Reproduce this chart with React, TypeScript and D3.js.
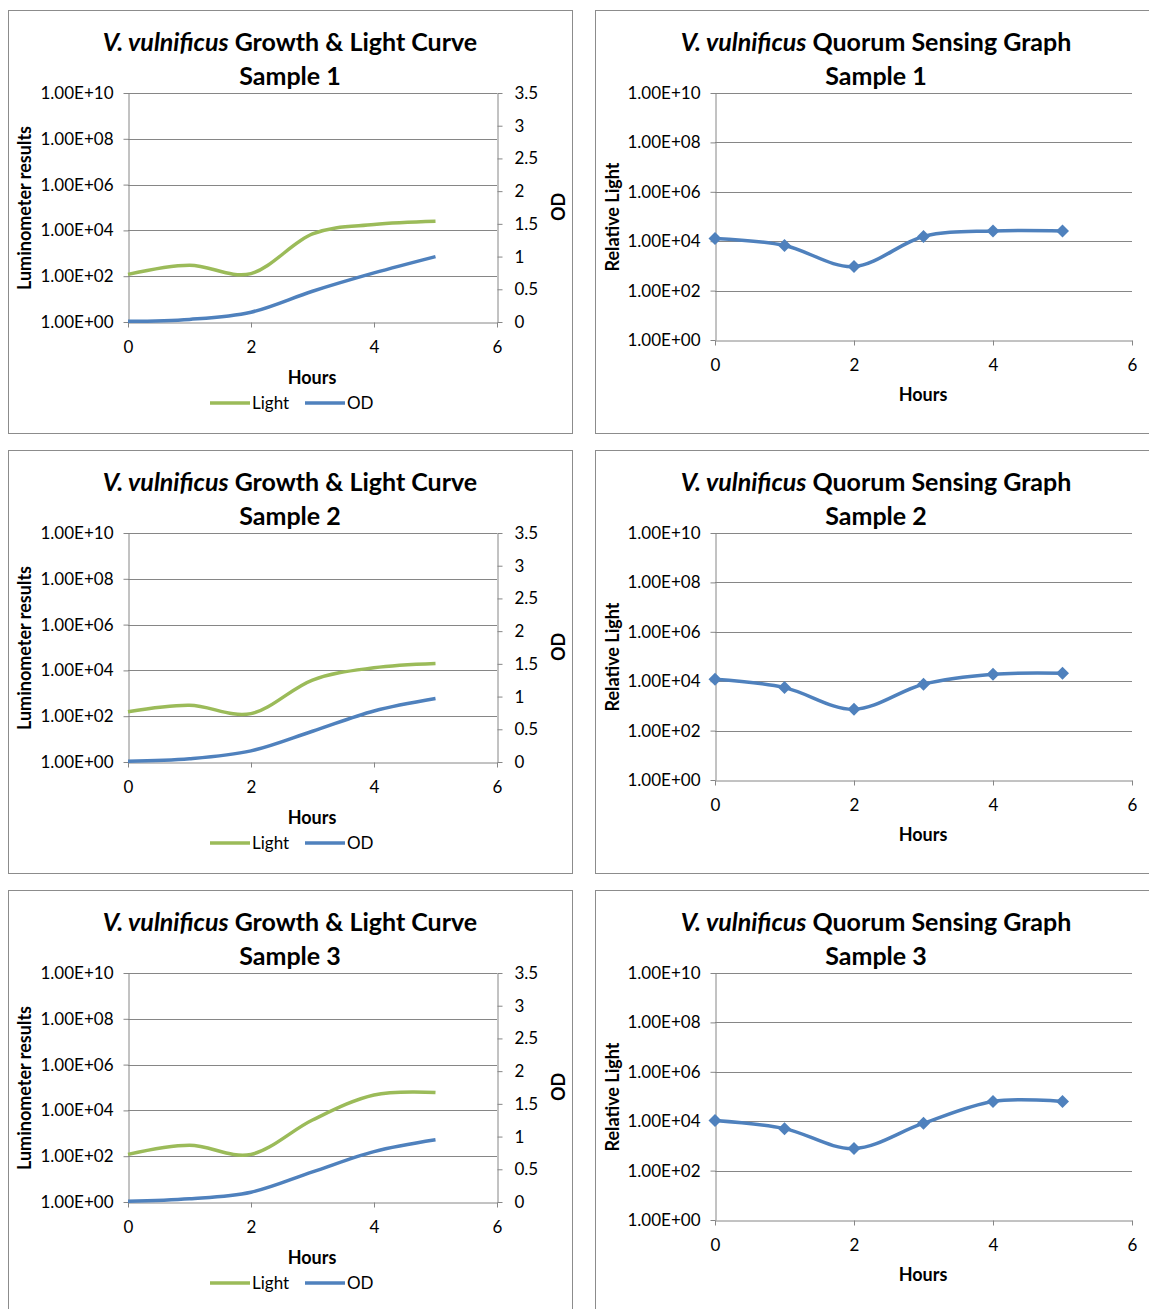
import * as d3 from "d3";
import React, { useEffect, useRef } from "react";

const hours = [0, 1, 2, 3, 4, 5];
const samples = ["Sample 1", "Sample 2", "Sample 3"];

// luminometer readings (left axis, log scale)
const light1 = [120, 300, 130, 7000, 18000, 25000];
const light2 = [155, 300, 130, 3800, 13000, 20000];
const light3 = [120, 300, 120, 3800, 47000, 60000];

// optical density (right axis)
const od1 = [0.01, 0.04, 0.15, 0.47, 0.75, 1.0];
const od2 = [0.012, 0.05, 0.17, 0.47, 0.78, 0.97];
const od3 = [0.011, 0.05, 0.15, 0.46, 0.77, 0.95];

// relative light (quorum sensing graphs)
const rel1 = [13000, 6700, 940, 15500, 26000, 26000];
const rel2 = [12000, 5500, 730, 7500, 19000, 21000];
const rel3 = [10700, 5000, 780, 8300, 63000, 63000];

const logTicks = [1, 1e2, 1e4, 1e6, 1e8, 1e10];
const odTicks = [0, 0.5, 1, 1.5, 2, 2.5, 3, 3.5];
const hourTicks = [0, 2, 4, 6];

const GREEN = "#9bbb59";
const BLUE = "#4f81bd";
const GRID = "#868686";
const FONT = "Lato, 'Open Sans', sans-serif";

const fmtSci = (d) => `1.00E+${String(Math.round(Math.log10(d))).padStart(2, "0")}`;
const fmtNum = (d) => String(d);

const styleAxis = (sel, size) => {
  sel.select(".domain").attr("stroke", GRID);
  sel.selectAll(".tick line").attr("stroke", GRID);
  sel.selectAll(".tick text").attr("fill", "#000").style("font-size", size + "px");
  sel.attr("font-family", FONT);
};

const addTitle = (g, cx, rest, sample) => {
  const t = g
    .append("text")
    .attr("x", cx)
    .attr("y", 51)
    .attr("text-anchor", "middle")
    .attr("font-weight", "bold")
    .attr("font-size", 25)
    .attr("fill", "#000");
  t.append("tspan").attr("font-style", "italic").text("V. vulnificus");
  t.append("tspan").text(rest);
  g.append("text")
    .attr("x", cx)
    .attr("y", 85)
    .attr("text-anchor", "middle")
    .attr("font-weight", "bold")
    .attr("font-size", 25)
    .attr("fill", "#000")
    .text(sample);
};

const drawGrowth = (svg, top, sample, light, od) => {
  const g = svg.append("g").attr("transform", `translate(0,${top})`);
  g.append("rect")
    .attr("x", 8.5)
    .attr("y", 10.5)
    .attr("width", 564)
    .attr("height", 423)
    .attr("fill", "#fff")
    .attr("stroke", "#8c8c8c");

  const x = d3.scaleLinear().domain([0, 6]).range([128, 497]);
  const yL = d3.scaleLog().domain([1, 1e10]).range([322, 93]);
  const yR = d3.scaleLinear().domain([0, 3.5]).range([322, 93]);

  // gridlines
  g.append("g")
    .selectAll("line")
    .data(logTicks.slice(1))
    .join("line")
    .attr("x1", 128)
    .attr("x2", 497)
    .attr("y1", (d) => Math.round(yL(d)) + 0.5)
    .attr("y2", (d) => Math.round(yL(d)) + 0.5)
    .attr("stroke", GRID);

  const ax = g
    .append("g")
    .attr("transform", "translate(0,322.5)")
    .call(d3.axisBottom(x).tickValues(hourTicks).tickFormat(fmtNum).tickSize(5).tickSizeOuter(0).tickPadding(13));
  styleAxis(ax, 17);

  const al = g
    .append("g")
    .attr("transform", "translate(128.5,0)")
    .call(d3.axisLeft(yL).tickValues(logTicks).tickFormat(fmtSci).tickSize(5).tickSizeOuter(0).tickPadding(10));
  styleAxis(al, 17);

  const ar = g
    .append("g")
    .attr("transform", "translate(497.5,0)")
    .call(d3.axisRight(yR).tickValues(odTicks).tickFormat(fmtNum).tickSize(5).tickSizeOuter(0).tickPadding(12));
  styleAxis(ar, 17);

  const lineL = d3
    .line()
    .x((d, i) => x(hours[i]))
    .y((d) => yL(d))
    .curve(d3.curveCardinal.tension(0));
  const lineR = d3
    .line()
    .x((d, i) => x(hours[i]))
    .y((d) => yR(d))
    .curve(d3.curveCardinal.tension(0));

  g.append("path").attr("d", lineL(light)).attr("fill", "none").attr("stroke", GREEN).attr("stroke-width", 3.5);
  g.append("path").attr("d", lineR(od)).attr("fill", "none").attr("stroke", BLUE).attr("stroke-width", 3.5);

  addTitle(g, 290, " Growth & Light Curve", sample);

  g.append("text")
    .attr("transform", "translate(31,208) rotate(-90)")
    .attr("text-anchor", "middle")
    .attr("font-weight", "bold")
    .attr("font-size", 18)
    .text("Luminometer results");
  g.append("text")
    .attr("transform", "translate(565,207) rotate(-90)")
    .attr("text-anchor", "middle")
    .attr("font-weight", "bold")
    .attr("font-size", 18)
    .text("OD");
  g.append("text")
    .attr("x", 312)
    .attr("y", 384)
    .attr("text-anchor", "middle")
    .attr("font-weight", "bold")
    .attr("font-size", 18)
    .text("Hours");

  // legend
  const leg = [
    { name: "Light", color: GREEN, x0: 210 },
    { name: "OD", color: BLUE, x0: 305 },
  ];
  leg.forEach((l) => {
    g.append("line")
      .attr("x1", l.x0)
      .attr("x2", l.x0 + 40)
      .attr("y1", 403)
      .attr("y2", 403)
      .attr("stroke", l.color)
      .attr("stroke-width", 3.5);
    g.append("text")
      .attr("x", l.x0 + 42)
      .attr("y", 409)
      .attr("font-size", 17)
      .text(l.name);
  });
};

const drawQuorum = (svg, top, sample, rel) => {
  const g = svg.append("g").attr("transform", `translate(0,${top})`);
  g.append("rect")
    .attr("x", 595.5)
    .attr("y", 10.5)
    .attr("width", 580)
    .attr("height", 423)
    .attr("fill", "#fff")
    .attr("stroke", "#8c8c8c");

  const x = d3.scaleLinear().domain([0, 6]).range([715, 1132]);
  const y = d3.scaleLog().domain([1, 1e10]).range([340, 93]);

  g.append("g")
    .selectAll("line")
    .data(logTicks.slice(1))
    .join("line")
    .attr("x1", 715)
    .attr("x2", 1132)
    .attr("y1", (d) => Math.round(y(d)) + 0.5)
    .attr("y2", (d) => Math.round(y(d)) + 0.5)
    .attr("stroke", GRID);

  const ax = g
    .append("g")
    .attr("transform", "translate(0,340.5)")
    .call(d3.axisBottom(x).tickValues(hourTicks).tickFormat(fmtNum).tickSize(5).tickSizeOuter(0).tickPadding(13));
  styleAxis(ax, 17);

  const al = g
    .append("g")
    .attr("transform", "translate(715.5,0)")
    .call(d3.axisLeft(y).tickValues(logTicks).tickFormat(fmtSci).tickSize(5).tickSizeOuter(0).tickPadding(10));
  styleAxis(al, 17);

  const line = d3
    .line()
    .x((d, i) => x(hours[i]))
    .y((d) => y(d))
    .curve(d3.curveCardinal.tension(0));

  g.append("path").attr("d", line(rel)).attr("fill", "none").attr("stroke", BLUE).attr("stroke-width", 3.5);

  g.append("g")
    .selectAll("path")
    .data(rel)
    .join("path")
    .attr("transform", (d, i) => `translate(${x(hours[i])},${y(d)})`)
    .attr("d", "M0,-6.5L6.5,0L0,6.5L-6.5,0Z")
    .attr("fill", BLUE);

  addTitle(g, 876, " Quorum Sensing Graph", sample);

  g.append("text")
    .attr("transform", "translate(619,217) rotate(-90)")
    .attr("text-anchor", "middle")
    .attr("font-weight", "bold")
    .attr("font-size", 18)
    .text("Relative Light");
  g.append("text")
    .attr("x", 923)
    .attr("y", 401)
    .attr("text-anchor", "middle")
    .attr("font-weight", "bold")
    .attr("font-size", 18)
    .text("Hours");
};

const App = () => {
  const svgRef = useRef(null);

  useEffect(() => {
    const svg = d3.select(svgRef.current);
    svg.selectAll("*").remove();
    svg.attr("font-family", FONT);

    const lights = [light1, light2, light3];
    const ods = [od1, od2, od3];
    const rels = [rel1, rel2, rel3];

    samples.forEach((s, i) => {
      drawGrowth(svg, i * 440, s, lights[i], ods[i]);
      drawQuorum(svg, i * 440, s, rels[i]);
    });
  }, []);

  return (
    <svg
      ref={svgRef}
      width="1149"
      height="1309"
      style={{ position: "absolute", left: 0, top: 0, background: "#fff" }}
    ></svg>
  );
};

export default App;
